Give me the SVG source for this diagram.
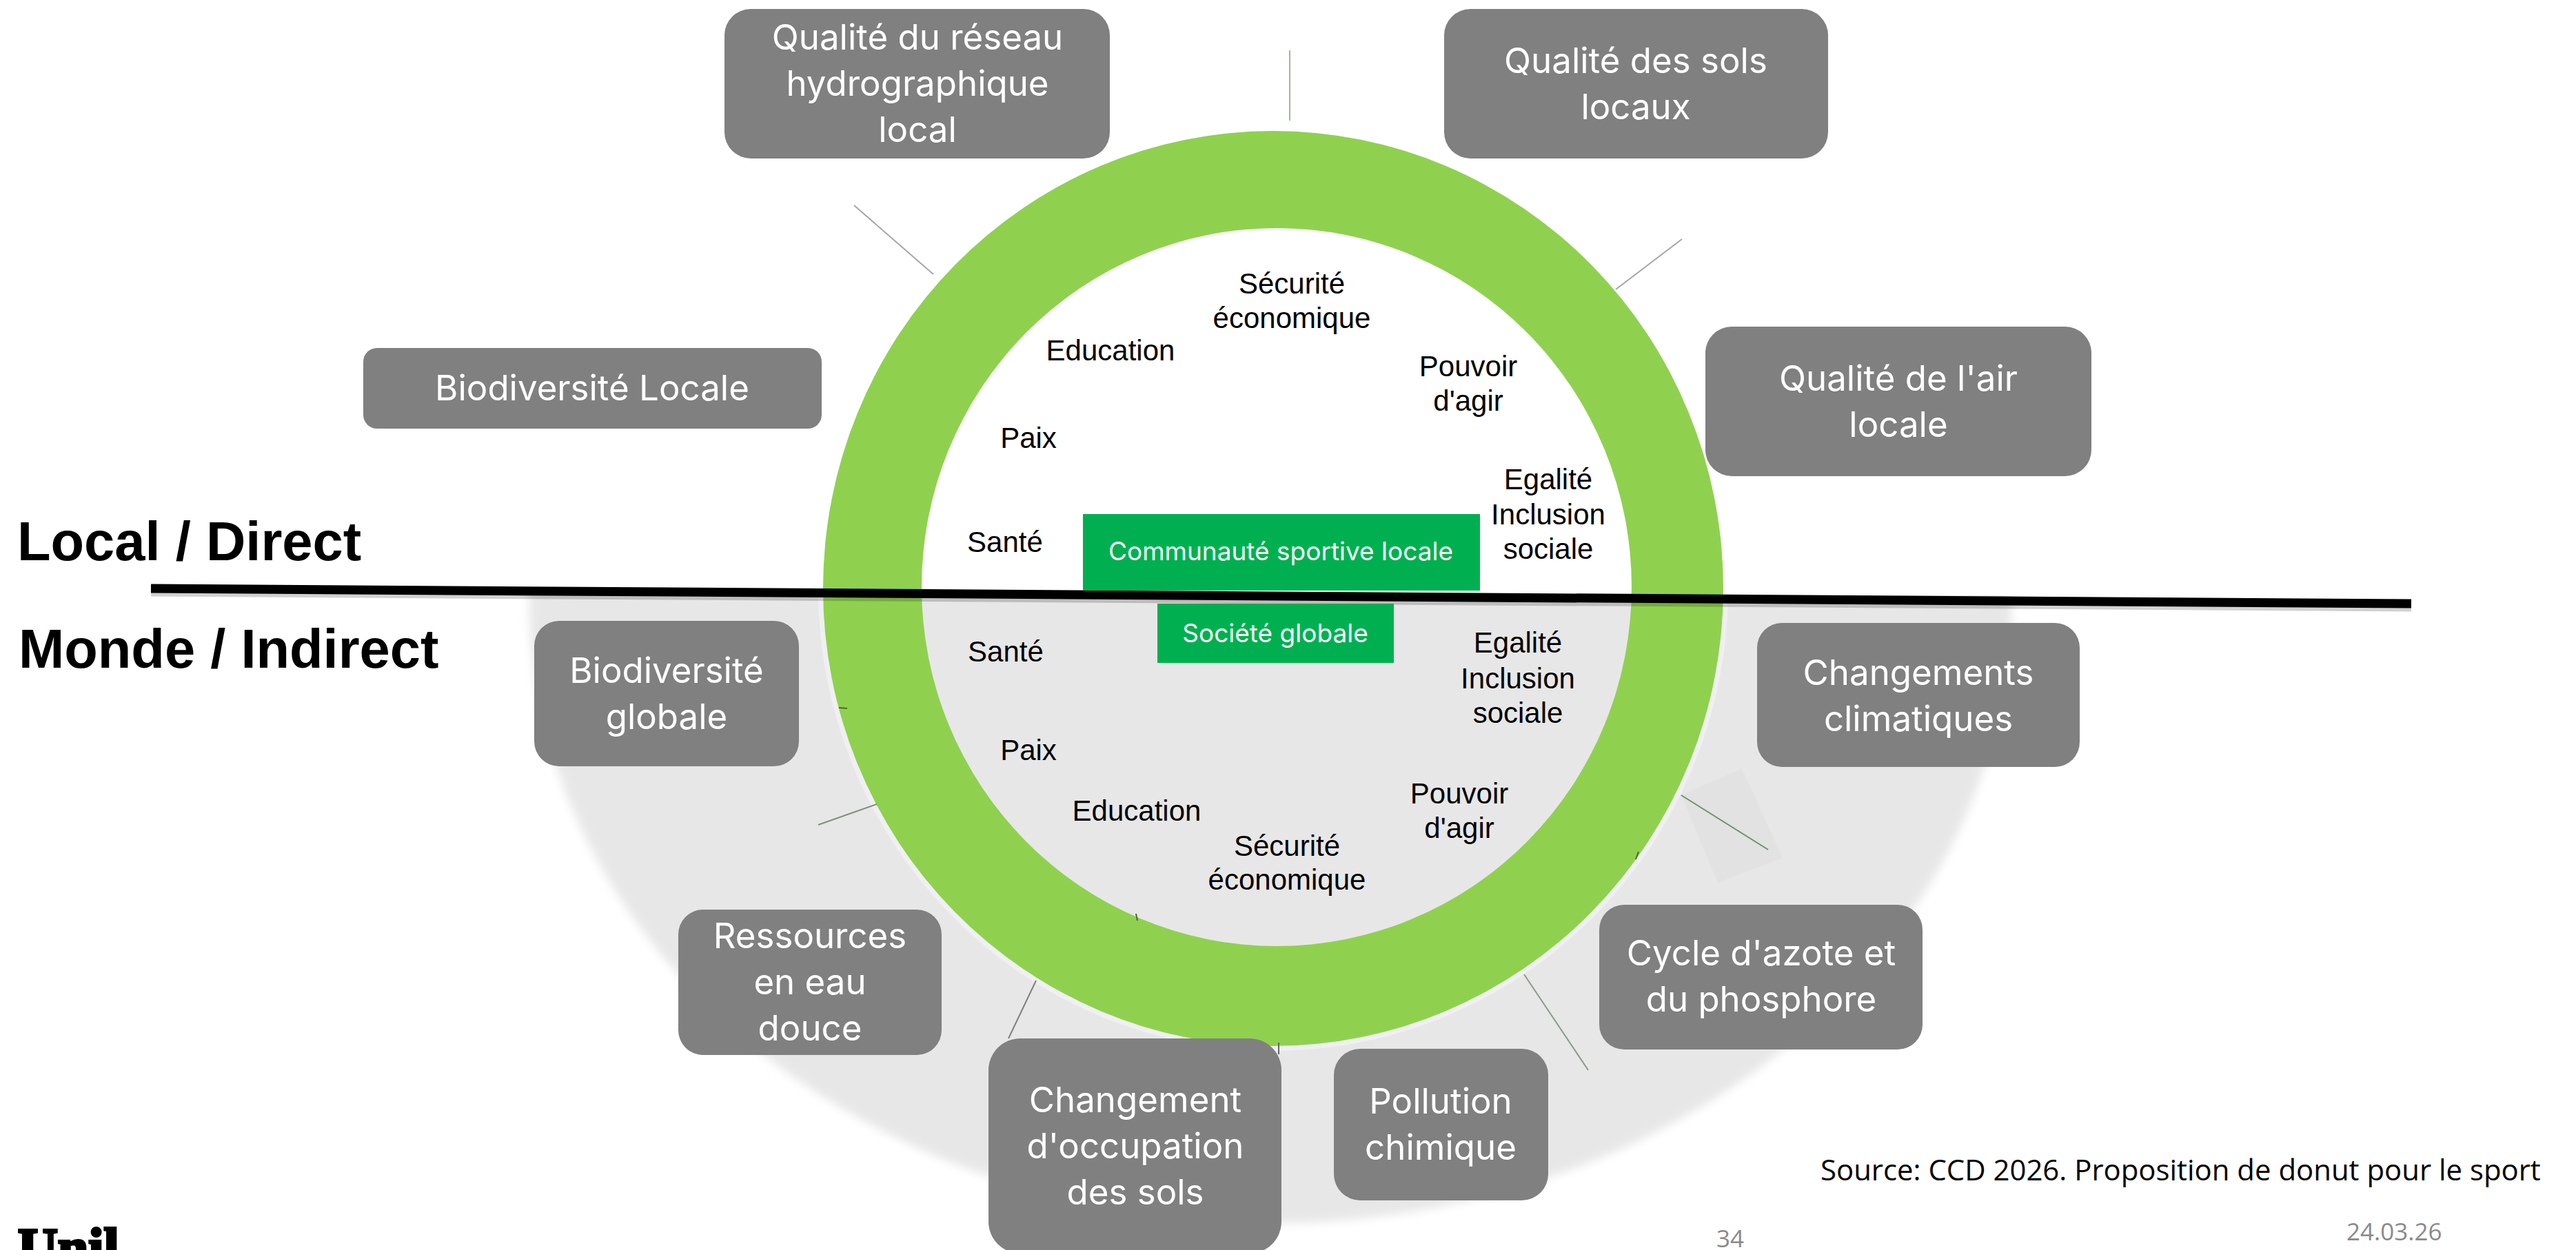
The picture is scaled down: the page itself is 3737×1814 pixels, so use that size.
<svg xmlns="http://www.w3.org/2000/svg" width="3737" height="1814" viewBox="0 0 3737 1814">
<style>
.box{fill:#808080}
.bt{font-family:Inter,"Noto Sans",sans-serif;font-size:51px;font-weight:400;fill:#fff;text-anchor:middle}
.lb{font-family:"Liberation Sans",Arial,sans-serif;font-size:42px;fill:#000;text-anchor:middle}
.hd{font-family:"Liberation Sans",Arial,sans-serif;font-size:79.5px;font-weight:700;fill:#000}
.gb{fill:#00b050}
.gt{font-family:Inter,"Noto Sans",sans-serif;font-size:37px;font-weight:400;fill:#fff;text-anchor:middle}
.cn{fill:none;stroke-width:2}
.ft{font-family:"Open Sans","Noto Sans",sans-serif;fill:#8a8a8a;font-size:35px}
</style>
<defs><filter id="soft" x="-5%" y="-5%" width="110%" height="110%"><feGaussianBlur stdDeviation="7"/></filter></defs>
<rect width="3737" height="1814" fill="#fff"/>
<g id="background">
<clipPath id="lower"><rect x="0" y="864" width="3737" height="950"/></clipPath>
<g clip-path="url(#lower)">
<ellipse cx="1843" cy="870" rx="1075" ry="905" fill="#e7e7e7" filter="url(#soft)"/>
<ellipse cx="1847" cy="854" rx="656" ry="667" fill="none" stroke="#f0eff2" stroke-width="8"/>
</g>
<polygon points="2439,1154 2527,1115 2586,1245 2492,1281" fill="#e2e2e2"/>
</g>
<g id="ring"><path fill-rule="evenodd" fill="#8fd14f" d="M1194 854a653 664 0 1 0 1306 0a653 664 0 1 0 -1306 0ZM1337 852a515 521 0 1 0 1030 0a515 521 0 1 0 -1030 0Z"/></g>
<g id="connectors" class="cn">
<line x1="1871" y1="73" x2="1871" y2="175" stroke="#9db89d"/>
<line x1="1239" y1="298" x2="1354" y2="398" stroke="#a5a5a5"/>
<line x1="2440" y1="347" x2="2344" y2="420" stroke="#a5a5a5"/>
<line x1="2439" y1="1154" x2="2565" y2="1233" stroke="#6f8f6f"/>
<line x1="2211" y1="1414" x2="2304" y2="1553" stroke="#8a9a8a"/>
<line x1="1503" y1="1423" x2="1463" y2="1507" stroke="#808080"/>
<line x1="1272" y1="1167" x2="1187" y2="1197" stroke="#7f8f7f"/>
<line x1="1855" y1="1513" x2="1855" y2="1530" stroke="#666"/>
<line x1="1217" y1="1027" x2="1229" y2="1028" stroke="#4a6a30"/>
<line x1="1648" y1="1326" x2="1650" y2="1336" stroke="#4a6a30"/>
<line x1="2377" y1="1236" x2="2373" y2="1247" stroke="#4a6a30"/>
</g>
<g id="divider">
<line x1="219" y1="859" x2="3498" y2="881" stroke="#000" stroke-opacity=".18" stroke-width="13"/>
<line x1="219" y1="854" x2="3498" y2="876" stroke="#000" stroke-width="13"/>
</g>
<g id="n-reseau"><rect class="box" x="1051" y="13" width="559" height="217" rx="38"/><text class="bt" x="1331" y="72">Qualité du réseau</text><text class="bt" x="1331" y="139">hydrographique</text><text class="bt" x="1331" y="206">local</text></g>
<g id="n-sols"><rect class="box" x="2095" y="13" width="557" height="217" rx="38"/><text class="bt" x="2373" y="106">Qualité des sols</text><text class="bt" x="2373" y="173">locaux</text></g>
<g id="n-air"><rect class="box" x="2474" y="474" width="560" height="217" rx="38"/><text class="bt" x="2754" y="567">Qualité de l'air</text><text class="bt" x="2754" y="634">locale</text></g>
<g id="n-biolocale"><rect class="box" x="527" y="505" width="665" height="117" rx="20"/><text class="bt" x="859" y="581">Biodiversité Locale</text></g>
<g id="n-bioglobale"><rect class="box" x="775" y="901" width="384" height="211" rx="36"/><text class="bt" x="967" y="991">Biodiversité</text><text class="bt" x="967" y="1058">globale</text></g>
<g id="n-climat"><rect class="box" x="2549" y="904" width="468" height="209" rx="36"/><text class="bt" x="2783" y="994">Changements</text><text class="bt" x="2783" y="1061">climatiques</text></g>
<g id="n-cycle"><rect class="box" x="2320" y="1313" width="469" height="210" rx="36"/><text class="bt" x="2555" y="1401">Cycle d'azote et</text><text class="bt" x="2555" y="1468">du phosphore</text></g>
<g id="n-pollution"><rect class="box" x="1935" y="1522" width="311" height="220" rx="38"/><text class="bt" x="2090" y="1616">Pollution</text><text class="bt" x="2090" y="1683">chimique</text></g>
<g id="n-eau"><rect class="box" x="984" y="1320" width="382" height="211" rx="36"/><text class="bt" x="1175" y="1376">Ressources</text><text class="bt" x="1175" y="1443">en eau</text><text class="bt" x="1175" y="1510">douce</text></g>
<g id="n-occupation"><rect class="box" x="1434" y="1507" width="425" height="312" rx="46"/><text class="bt" x="1647" y="1614">Changement</text><text class="bt" x="1647" y="1681">d'occupation</text><text class="bt" x="1647" y="1748">des sols</text></g>
<g id="n-communaute"><rect class="gb" x="1571" y="746" width="576" height="111"/><text class="gt" x="1858" y="813">Communauté sportive locale</text></g>
<g id="n-societe"><rect class="gb" x="1679" y="876" width="343" height="86"/><text class="gt" x="1850" y="932">Société globale</text></g>
<g id="labels-local">
<text class="lb" x="1874" y="426">Sécurité</text><text class="lb" x="1874" y="476">économique</text>
<text class="lb" x="1611" y="523">Education</text>
<text class="lb" x="2130" y="546">Pouvoir</text><text class="lb" x="2130" y="596">d'agir</text>
<text class="lb" x="1492" y="650">Paix</text>
<text class="lb" x="1458" y="801">Santé</text>
<text class="lb" x="2246" y="710">Egalité</text><text class="lb" x="2246" y="761">Inclusion</text><text class="lb" x="2246" y="811">sociale</text>
</g>
<g id="labels-global">
<text class="lb" x="1459" y="960">Santé</text>
<text class="lb" x="2202" y="947">Egalité</text><text class="lb" x="2202" y="999">Inclusion</text><text class="lb" x="2202" y="1049">sociale</text>
<text class="lb" x="1492" y="1103">Paix</text>
<text class="lb" x="1649" y="1191">Education</text>
<text class="lb" x="2117" y="1166">Pouvoir</text><text class="lb" x="2117" y="1216">d'agir</text>
<text class="lb" x="1867" y="1242">Sécurité</text><text class="lb" x="1867" y="1291">économique</text>
</g>
<text class="hd" x="25" y="813">Local / Direct</text>
<text class="hd" x="27" y="969">Monde / Indirect</text>
<text x="2641" y="1713" font-family="Open Sans,Noto Sans,sans-serif" font-size="41.9" fill="#000">Source: CCD 2026. Proposition de donut pour le sport</text>
<text class="ft" x="2510" y="1810" text-anchor="middle">34</text>
<text class="ft" x="3404" y="1800">24.03.26</text>
<text x="26" y="1838" font-family="Liberation Serif,serif" font-weight="700" font-size="80" fill="#000" stroke="#000" stroke-width="4">Unil</text>
</svg>
